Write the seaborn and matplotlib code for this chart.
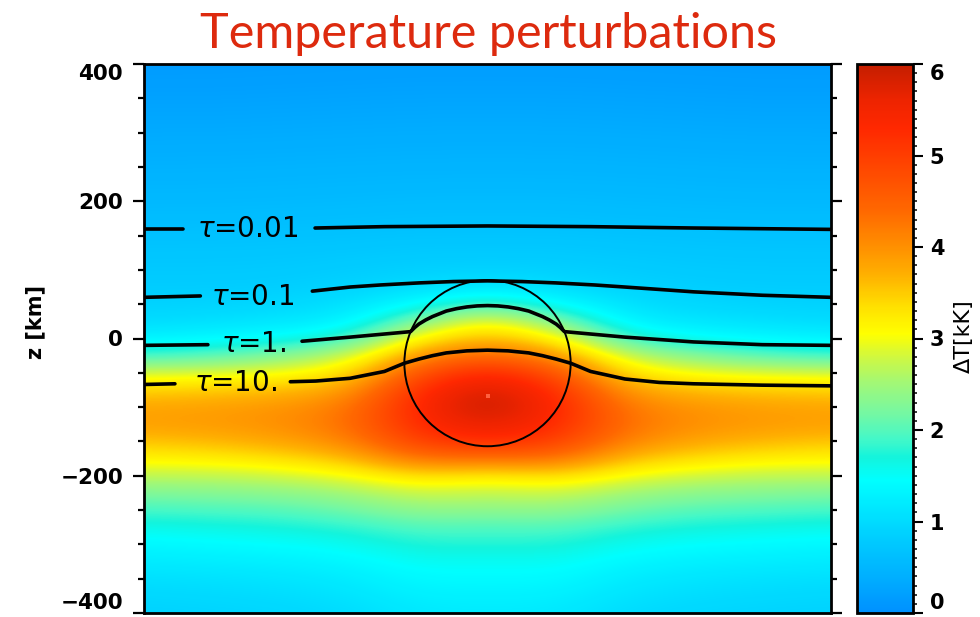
import numpy as np
import pandas as pd
import matplotlib
matplotlib.use("Agg")
import matplotlib.pyplot as plt
from matplotlib.colors import LinearSegmentedColormap
from matplotlib.patches import Circle
from matplotlib.ticker import MultipleLocator
import seaborn as sns

# ---- temperature perturbation field (kK), half domain x >= 0, mirrored ----
x_half = [0, 100, 200, 300, 400, 500]  # km
z_levels = [400, 375, 350, 325, 300, 275, 250, 225, 200, 175, 150, 125, 100,
            75, 50, 25, 0, -25, -50, -75, -100, -125, -150, -175, -200,
            -225, -250, -275, -300, -325, -350, -375, -400]  # km

dT_x0 = [0.18, 0.22, 0.27, 0.32, 0.37, 0.42, 0.47, 0.52, 0.58, 0.64, 0.70, 0.78, 0.88,
         1.15, 2.00, 3.15, 3.70, 4.50, 5.40, 5.90, 6.00, 5.75, 5.25, 4.30, 3.20,
         2.70, 2.35, 1.95, 1.75, 1.52, 1.40, 1.28, 1.20]
dT_x100 = [0.18, 0.22, 0.27, 0.32, 0.37, 0.42, 0.47, 0.52, 0.58, 0.64, 0.70, 0.78, 0.87,
           1.00, 1.45, 2.30, 3.20, 4.00, 4.75, 5.25, 5.40, 5.30, 5.00, 4.35, 3.40,
           2.80, 2.40, 2.00, 1.75, 1.55, 1.40, 1.28, 1.18]
dT_x200 = [0.17, 0.21, 0.26, 0.31, 0.36, 0.41, 0.46, 0.51, 0.56, 0.62, 0.68, 0.75, 0.82,
           0.90, 1.05, 1.25, 1.85, 2.75, 3.30, 3.85, 4.20, 4.30, 4.10, 3.60, 3.00,
           2.50, 2.15, 1.80, 1.55, 1.35, 1.20, 1.10, 1.00]
dT_x300 = [0.16, 0.20, 0.25, 0.30, 0.35, 0.40, 0.45, 0.50, 0.55, 0.61, 0.67, 0.73, 0.78,
           0.84, 0.95, 1.12, 1.50, 2.30, 3.00, 3.60, 3.95, 4.00, 3.80, 3.35, 2.80,
           2.35, 2.00, 1.70, 1.45, 1.27, 1.12, 1.02, 0.93]
dT_x400 = [0.15, 0.19, 0.24, 0.29, 0.34, 0.39, 0.44, 0.49, 0.54, 0.60, 0.66, 0.72, 0.77,
           0.82, 0.90, 1.05, 1.38, 2.00, 2.90, 3.50, 3.85, 3.90, 3.65, 3.20, 2.70,
           2.30, 1.95, 1.65, 1.40, 1.23, 1.08, 0.98, 0.90]
dT_x500 = [0.15, 0.19, 0.24, 0.29, 0.34, 0.39, 0.44, 0.49, 0.54, 0.60, 0.66, 0.72, 0.77,
           0.82, 0.88, 1.00, 1.30, 1.85, 2.85, 3.45, 3.80, 3.85, 3.55, 3.15, 2.70,
           2.25, 1.90, 1.60, 1.35, 1.20, 1.05, 0.95, 0.88]

# ---- optical depth contours ----
tau_labels = ["0.01", "0.1", "1.", "10."]
tau001_x = [-500, -443, -251, -150, 0, 150, 300, 400, 500]
tau001_z = [160, 160, 161, 163, 164, 163, 161, 160, 159]
tau01_x = [-500, -418, -255, -200, -156, -100, -50, 0, 50, 100, 156, 200, 300, 400, 500]
tau01_z = [60, 62, 69, 75, 78, 81, 83, 84, 83, 81, 78, 75, 68, 63, 60]
tau1_x = [-500, -407, -270, -200, -156, -112, -106, -100, -90, -80, -70, -60, -45, -30, -15, 0,
          15, 30, 45, 60, 70, 80, 90, 100, 106, 112, 156, 200, 300, 400, 500]
tau1_z = [-10, -9, -4, 2, 6, 10, 16, 21, 27, 32, 36, 40, 43.5, 46, 47.5, 48,
          47.5, 46, 43.5, 40, 36, 32, 27, 21, 16, 10, 6, 2, -5, -9, -10]
tau10_x = [-500, -455, -287, -250, -200, -150, -121, -100, -80, -60, -30, 0,
           30, 60, 80, 100, 121, 150, 200, 250, 300, 400, 500]
tau10_z = [-67, -66, -63, -62, -58, -48, -36, -30, -25, -21, -18, -17,
           -18, -21, -25, -30, -36, -48, -59, -64, -66, -68, -69]
# label gaps (km) and label anchor points
tau_gap_lo = [-443, -418, -407, -455]
tau_gap_hi = [-251, -255, -270, -287]
tau_label_x = [-350, -342, -340, -367]
tau_label_z = [160, 61, -8, -65]

# ---- bubble outline and hottest point ----
bubble_center = (0, -36)
bubble_radius = 121
hot_spot = (0, -84)

z_ticks = [-400, -200, 0, 200, 400]
cb_ticks = [0, 1, 2, 3, 4, 5, 6]

# colour table for Delta T
cb_vals = [0.0, 0.4, 0.8, 1.15, 1.45, 1.7, 1.9, 2.2, 2.5, 2.8, 3.05,
           3.35, 3.7, 4.0, 4.4, 4.85, 5.3, 5.6, 6.0]
cb_cols = ["#0090ff", "#00b0ff", "#00ccff", "#00e8ff", "#00ffff", "#14f4dc",
           "#44f8c8", "#78f8a0", "#a0f878", "#d0f840", "#ffff00", "#ffe000",
           "#ffb000", "#ff9000", "#ff6800", "#ff4800", "#ff2800", "#ee2400",
           "#c41e00"]

sns.set_style("ticks")
plt.rcParams["font.family"] = ["DejaVu Sans"]
plt.rcParams["mathtext.fontset"] = "dejavusans"
for key in ("text.color", "axes.labelcolor", "xtick.color", "ytick.color",
            "axes.edgecolor"):
    plt.rcParams[key] = "black"

cmap = LinearSegmentedColormap.from_list(
    "dT", [(v / 6.0, c) for v, c in zip(cb_vals, cb_cols)], N=512)

half = np.column_stack([dT_x0, dT_x100, dT_x200, dT_x300, dT_x400, dT_x500])
field = np.hstack([half[:, :0:-1], half])

fig = plt.figure(figsize=(9.8, 6.17), dpi=100)
fig.patch.set_facecolor("white")
ax = fig.add_axes([144 / 980, 1 - 613 / 617, 687 / 980, 549 / 617])
cax = fig.add_axes([857 / 980, 1 - 613 / 617, 56 / 980, 549 / 617])

dx = x_half[1] - x_half[0]
dz = z_levels[0] - z_levels[1]
im = ax.imshow(field, cmap=cmap, vmin=0, vmax=6, aspect="auto",
               interpolation="bicubic", origin="upper",
               extent=(-x_half[-1] - dx / 2, x_half[-1] + dx / 2,
                       z_levels[-1] - dz / 2, z_levels[0] + dz / 2))

# contour lines, split around their labels
rows = []
tau_x = [tau001_x, tau01_x, tau1_x, tau10_x]
tau_z = [tau001_z, tau01_z, tau1_z, tau10_z]
for i, (xs, zs) in enumerate(zip(tau_x, tau_z)):
    for xv, zv in zip(xs, zs):
        if xv <= tau_gap_lo[i]:
            rows.append((f"{i}a", xv, zv))
        elif xv >= tau_gap_hi[i]:
            rows.append((f"{i}b", xv, zv))
lines = pd.DataFrame(rows, columns=["seg", "x", "z"])
sns.lineplot(data=lines, x="x", y="z", units="seg", estimator=None,
             color="black", linewidth=2.6, sort=False, legend=False, ax=ax)

for lab, xl, zl in zip(tau_labels, tau_label_x, tau_label_z):
    ax.text(xl, zl, r"$\tau$=" + lab, ha="center", va="center",
            fontsize=20, color="black")

ax.add_patch(Circle(bubble_center, bubble_radius, fill=False,
                    edgecolor="black", linewidth=1.4))
ax.plot(*hot_spot, marker="s", markersize=2.2, color="#ff6040",
        markeredgewidth=0)

ax.set_xlim(-500, 500)
ax.set_ylim(-400, 400)
ax.set_xticks([])
ax.set_xlabel("")
ax.set_yticks(z_ticks)
ax.yaxis.set_minor_locator(MultipleLocator(50))
ax.tick_params(axis="y", which="both", direction="out", left=True, right=True,
               labelright=False, width=1.6, pad=7, labelsize=15.5,
               colors="black")
ax.tick_params(axis="y", which="major", length=8)
ax.tick_params(axis="y", which="minor", length=4.5)
for t in ax.get_yticklabels():
    t.set_fontweight("bold")
for s in ax.spines.values():
    s.set_linewidth(2.0)
    s.set_color("black")
ax.set_ylabel("z [km]", fontsize=15, fontweight="bold")
ax.yaxis.set_label_coords((35 - 144) / 687, (613 - 322) / 549)
ax.yaxis.label.set_va("center")

cb = fig.colorbar(im, cax=cax)
cb.set_ticks(cb_ticks)
cax.yaxis.set_minor_locator(MultipleLocator(0.1))
cax.tick_params(which="major", length=7, width=1.5, direction="out",
                pad=5, labelsize=15, colors="black")
cax.tick_params(which="minor", length=3, width=1.1, direction="out")
for t in cax.get_yticklabels():
    t.set_fontweight("bold")
cb.outline.set_linewidth(2.0)
cb.outline.set_edgecolor("black")
cb.set_label("ΔT[kK]", fontsize=16, color="black")
cax.yaxis.set_label_coords((964 - 857) / 56, (613 - 336) / 549)
cax.yaxis.label.set_va("center")

# end labels sit inside the axis range
fig.canvas.draw()
for axis in (ax.yaxis, cax.yaxis):
    ticks = axis.get_major_ticks()
    for lbl in (ticks[0].label1, ticks[0].label2):
        lbl.set_va("bottom")
    for lbl in (ticks[-1].label1, ticks[-1].label2):
        lbl.set_va("top")

fig.text(0.498, 1 - 48 / 617, "Temperature perturbations", color="#dd2a0e",
         fontsize=35, fontweight="normal", family=["Lato", "DejaVu Sans"],
         ha="center", va="baseline")

fig.savefig("out.png", dpi=100)
